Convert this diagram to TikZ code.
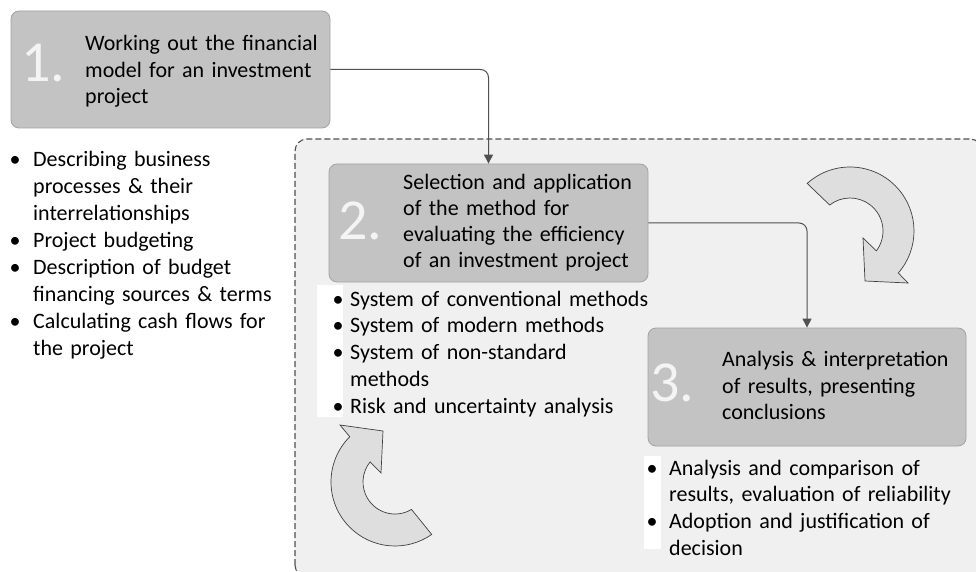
\documentclass[tikz,border=0pt]{standalone}
\usepackage{fontspec}
\setmainfont{Carlito}
\usetikzlibrary{arrows.meta,calc}
\definecolor{boxfill}{HTML}{C3C3C3}
\definecolor{boxline}{HTML}{A3A3A3}
\definecolor{regionfill}{HTML}{F0F0F0}
\definecolor{lineclr}{HTML}{505050}
\definecolor{numclr}{HTML}{F4F4F4}
\definecolor{cyclefill}{HTML}{DEDEDE}
\begin{document}
\begin{tikzpicture}[x=1pt,y=1pt,
  stagebox/.style={draw=boxline,line width=0.8pt,fill=boxfill,rounded corners=8pt,inner sep=0pt},
  numlbl/.style={anchor=base west,inner sep=0pt,text=numclr,font=\fontsize{58}{58}\selectfont},
  bodytext/.style={anchor=base west,inner sep=0pt,align=left,text width=340pt,font=\fontsize{22}{#1}\selectfont},
  bulletdot/.style={anchor=base,inner sep=0pt,font=\fontsize{22}{26}\selectfont},
  conn/.style={draw=lineclr,line width=1pt,rounded corners=8pt,-{Triangle[width=9pt,length=9pt]}},
  cyclearrow/.style={draw=black!75,line width=0.7pt,fill=cyclefill,line join=miter}
]
\useasboundingbox (0,0) rectangle (976,571);
\clip (0,0) rectangle (976,571);
\fill[white] (0,0) rectangle (976,571);

% dashed region
\draw[fill=regionfill,draw=lineclr,line width=1.1pt,dash pattern=on 6pt off 3pt,rounded corners=12pt]
  (295,-6) rectangle (982,432);

% white strips behind bullets
\fill[white] (317,154) rectangle (343,286);
\fill[white] (644,22) rectangle (661,115);

% stage boxes
\node[stagebox,minimum width=319pt,minimum height=117pt] (b1) at (170.5,501.5) {};
\node[stagebox,minimum width=319pt,minimum height=118pt] (b2) at (488.5,348) {};
\node[stagebox,minimum width=318pt,minimum height=118pt] (b3) at (807,184) {};

% connectors
\draw[conn] (b1.east) -| (b2.north);
\draw[conn] (b2.east) -| (b3.north);

% numbers
\node[numlbl] (n1) at (21,489) {1.};
\node[numlbl] (n2) at (338,331) {2.};
\node[numlbl] (n3) at (650,170) {3.};

% box texts
\node[bodytext=26.5] (t1) at (85,520) {Working out the financial\\model for an investment\\project};
\node[bodytext=26] (t2) at (403,381) {Selection and application\\of the method for\\evaluating the efficiency\\of an investment project};
\node[bodytext=26.5] (t3) at (722,204.3) {Analysis \& interpretation\\of results, presenting\\conclusions};

% left list
\node[bodytext=27] (l1) at (33,404.5) {Describing business\\processes \& their\\interrelationships\\Project budgeting\\Description of budget\\financing sources \& terms\\Calculating cash flows for\\the project};
\node[bulletdot] (lb1) at (15,404.5) {•};
\node[bulletdot] (lb2) at (15,323.5) {•};
\node[bulletdot] (lb3) at (15,296.5) {•};
\node[bulletdot] (lb4) at (15,242.5) {•};

% box 2 list
\node[bodytext=26.8] (l2) at (350,265) {System of conventional methods\\System of modern methods\\System of non-standard\\methods\\Risk and uncertainty analysis};
\node[bulletdot] (mb1) at (338,265) {•};
\node[bulletdot] (mb2) at (338,238.2) {•};
\node[bulletdot] (mb3) at (338,211.4) {•};
\node[bulletdot] (mb4) at (338,157.8) {•};

% box 3 list
\node[bodytext=26.7] (l3) at (669,96) {Analysis and comparison of\\results, evaluation of reliability\\Adoption and justification of\\decision};
\node[bulletdot] (rb1) at (652,96) {•};
\node[bulletdot] (rb2) at (652,42.6) {•};

% cycle arrow top right (clockwise)
\draw[cyclearrow] (850,340) ++(132:64) arc[start angle=132,end angle=-41,radius=64]
  -- (908,288) -- (865,290) -- (863,333) -- ($(850,340)+(-37:33)$)
  arc[start angle=-37,end angle=128,radius=33] -- cycle;

% cycle arrow bottom left (counter-clockwise)
\draw[cyclearrow] (395,89) ++(135:64) arc[start angle=135,end angle=305,radius=64]
  -- ($(395,89)+(301:32)$) arc[start angle=301,end angle=141,radius=32]
  -- (381,98) -- (383,140) -- (340,146) -- cycle;
\end{tikzpicture}
\end{document}
